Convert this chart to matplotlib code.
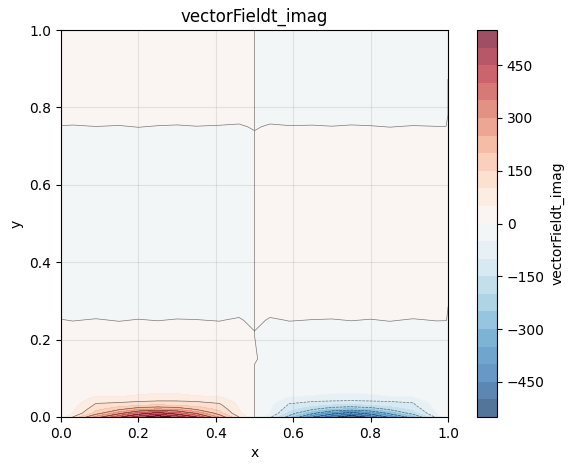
import numpy as np
import matplotlib
matplotlib.use("Agg")
import matplotlib.pyplot as plt

title = "vectorFieldt_imag"

# grid is uneven: tight near the bottom wall, and a jump across x=0.5
x = [0, .03, .09, .15, .2, .25, .3, .35, .41, .46, .4999,
     .5001, .54, .59, .65, .7, .75, .8, .85, .91, .97, .995, 1]
y = [0, .01, .02, .03, .04, .05, .06, .08, .15, .22, .25, .28, .5, .72, .75, .78, .87, 1]

field = [
    [10, 100, 270, 390, 475, 540, 480, 400, 240, 100, 3, -3, -90, -225, -395, -480, -545, -480, -385, -265, -85, -12, -10],
    [12, 50, 170, 280, 370, 420, 370, 290, 170, 60, 5, -5, -50, -165, -285, -375, -425, -370, -280, -170, -50, -12, -12],
    [12, 40, 135, 190, 240, 260, 245, 195, 135, 50, 5, -5, -45, -130, -195, -245, -265, -240, -190, -135, -40, -12, -12],
    [12, 30, 110, 130, 150, 160, 150, 135, 110, 45, 6, -6, -40, -108, -135, -155, -165, -150, -130, -110, -30, -12, -12],
    [12, 15, 90, 90, 100, 105, 105, 100, 90, 30, 8, -8, -25, -90, -100, -105, -108, -105, -100, -95, -18, -12, -12],
    [12, 12, 60, 55, 65, 72, 70, 65, 55, 25, 8, -8, -20, -55, -65, -72, -75, -68, -60, -55, -14, -12, -12],
    [12, 12, 30, 28, 45, 52, 50, 35, 28, 15, 9, -9, -14, -28, -40, -50, -53, -48, -35, -28, -13, -12, -12],
    [12, 14, 16, 15, 17, 20, 18, 16, 15, 14, 12, -12, -14, -15, -16, -18, -20, -17, -15, -16, -14, -12, -12],
    [12, 12, 12, 12, 12, 12, 12, 12, 12, 12, 12, 3, -12, -12, -12, -12, -12, -12, -12, -12, -12, -12, -12],
    [8, 8, 8, 8, 8, 8, 8, 8, 8, 8, .5, -.5, -8, -8, -8, -8, -8, -8, -8, -8, -8, -8, -8],
    [.8, -.6, 1.2, -.8, .8, -.4, 1, .5, -.7, 2.5, -6, 6, -2.5, .7, -.5, -1, .4, -.8, .8, -1.2, .5, .3, -.8],
    [-8, -8, -8, -8, -8, -8, -8, -8, -8, -8, -8, 8, 8, 8, 8, 8, 8, 8, 8, 8, 8, 8, -.3],
    [-12, -12, -12, -12, -12, -12, -12, -12, -12, -12, -12, 12, 12, 12, 12, 12, 12, 12, 12, 12, 12, 12, 12],
    [-8, -8, -8, -8, -8, -8, -8, -8, -8, -8, -4, 4, 8, 8, 8, 8, 8, 8, 8, 8, 8, 8, 8],
    [-.8, -1.4, -.2, -1, .4, -.8, -1.5, -.4, -1.2, -2.5, 2, -2, 2.5, .9, 1.3, .4, 1.5, .8, -.3, .9, .3, .3, .8],
    [8, 8, 8, 8, 8, 8, 8, 8, 8, 8, 8, -8, -8, -8, -8, -8, -8, -8, -8, -8, -8, -8, .3],
    [10, 10, 10, 10, 10, 10, 10, 10, 10, 10, 10, -10, -10, -10, -10, -10, -10, -10, -10, -10, -10, -10, .3],
    [12, 12, 12, 12, 12, 12, 12, 12, 12, 12, 12, -12, -12, -12, -12, -12, -12, -12, -12, -12, -12, -12, -12],
]

fill_levels = np.arange(-550, 551, 50)
line_levels = np.arange(-500, 501, 100)
cbar_ticks = [-450, -300, -150, 0, 150, 300, 450]

fig = plt.figure(figsize=(5.73, 4.70), dpi=100)
ax = fig.add_axes([61 / 573, 53 / 470, 387 / 573, 387 / 470])
cax = fig.add_axes([477 / 573, 53 / 470, 20 / 573, 387 / 470])

cf = ax.contourf(x, y, field, levels=fill_levels, cmap="RdBu_r", alpha=0.7)
ax.contour(x, y, field, levels=line_levels, colors="k", alpha=0.5, linewidths=0.5)

ax.set_xlim(0, 1)
ax.set_ylim(0, 1)
ax.set_xlabel("x")
ax.set_ylabel("y")
ax.set_title(title)
ax.grid(True, alpha=0.3)

cbar = fig.colorbar(cf, cax=cax, ticks=cbar_ticks)
cbar.set_label(title)

fig.savefig("out.png", dpi=100)
